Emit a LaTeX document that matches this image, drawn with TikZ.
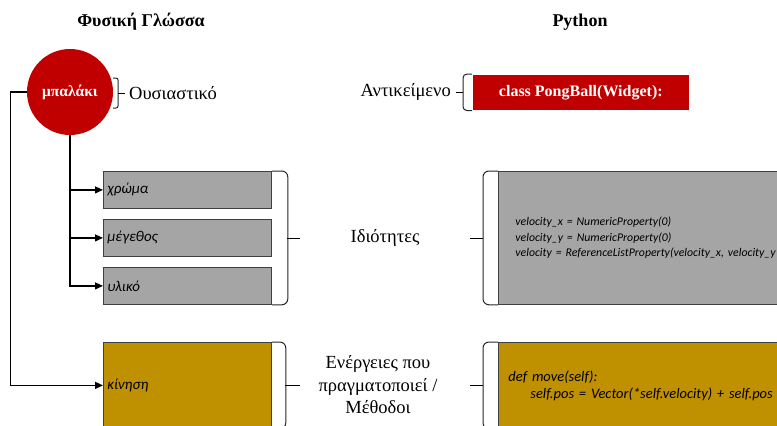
\documentclass[tikz,border=0pt]{standalone}
\usepackage{fontspec}
\setmainfont{Liberation Serif}
\newfontfamily\calfont{Carlito}
\usetikzlibrary{arrows.meta}
\definecolor{dred}{HTML}{C00000}
\definecolor{gbox}{HTML}{A5A5A5}
\definecolor{gold}{HTML}{BF9000}
\definecolor{edge}{HTML}{404040}
\tikzset{
  conn/.style={line width=1.2pt, draw=black},
  arr/.style={conn, -{Triangle[length=8pt,width=7pt]}},
  brace/.style={line width=1pt, draw=black!85, rounded corners=6pt},
  tick/.style={line width=1pt, draw=black},
  head/.style={font=\fontsize{18}{21}\selectfont\bfseries},
  lbl/.style={font=\fontsize{18.5}{22.5}\selectfont, align=center},
  propbox/.style={draw=edge, line width=0.8pt, fill=gbox, minimum height=37pt,
    text width=160pt, inner xsep=4pt, align=left, anchor=north west,
    font=\calfont\itshape\fontsize{15}{17}\selectfont},
}
\begin{document}
\begin{tikzpicture}[x=1pt,y=-1pt]
\useasboundingbox (0,0) rectangle (777,426);
\clip (0,0) rectangle (777,426);
% headings
\node[head] (h1) at (141,22) {Φυσική Γλώσσα};
\node[head] (h2) at (580,22) {Python};
% ball
\node[circle, fill=dred, minimum size=86pt, inner sep=0pt, text=white,
  font=\fontsize{15.5}{17}\selectfont\bfseries] (ball) at (70,92) {μπαλάκι};
% bracket of ball
\draw[brace, rounded corners=2pt] (113,78) -- (118,78) -- (118,108) -- (113,108);
\coordinate (bt) at (118,93);
\draw[tick] (bt) -- ++(7,0);
\node[lbl, anchor=west, inner sep=0pt] (noun) at (129,93) {Ουσιαστικό};
% property boxes
\node[propbox] (c) at (103,171) {χρώμα};
\node[propbox] (m) at (103,219) {μέγεθος};
\node[propbox] (u) at (103,267) {υλικό};
% action box
\node[propbox, fill=gold, minimum height=86pt] (k) at (103,342) {κίνηση};
% connectors
\draw[arr] (ball.south) |- (c.west);
\draw[arr] (ball.south) |- (m.west);
\draw[arr] (ball.south) |- (u.west);
\draw[arr] (ball.west) -- ++(-16,0) |- (k.west);
% brace right of properties
\draw[brace] (c.north east) -- ++(16,0) |- (u.south east);
\coordinate (pb) at (287,238);
\draw[tick] (pb) -- ++(13,0);
\node[lbl] (props) at (385,238) {Ιδιότητες};
% brace right of action
\draw[brace] (k.north east) -- ++(14,0) |- (k.south east);
\coordinate (ab) at (285,385);
\draw[tick] (ab) -- ++(15,0);
\node[lbl] (meth) at (378,385) {Ενέργειες που\\πραγματοποιεί /\\Μέθοδοι};
% python side
\node[lbl, anchor=east, inner sep=0pt] (obj) at (451,92) {Αντικείμενο};
\node[draw=white, line width=0.6pt, fill=dred, text=white, minimum width=217pt, minimum height=36pt,
  anchor=north west, font=\fontsize{16}{18}\selectfont\bfseries] (cls) at (472,74) {class PongBall(Widget):};
\draw[brace, rounded corners=4pt] (cls.north west) -- ++(-9,0) |- (cls.south west);
\draw[tick] (456,92) -- (463,92);
\node[draw=edge, line width=0.8pt, fill=gbox, anchor=north west, minimum height=133pt,
  text width=400pt, inner xsep=17pt, align=left,
  font=\calfont\itshape\fontsize{11.8}{15.5}\selectfont] (pv) at (498,171)
  {velocity\_x = NumericProperty(0)\\
   velocity\_y = NumericProperty(0)\\
   velocity = ReferenceListProperty(velocity\_x, velocity\_y};
\draw[brace] (pv.north west) -- ++(-15,0) |- (pv.south west);
\draw[tick] (470,238) -- (483,238);
\node[draw=edge, line width=0.8pt, fill=gold, anchor=north west, minimum height=86pt,
  text width=400pt, inner xsep=10pt, align=left,
  font=\calfont\itshape\fontsize{14.5}{17}\selectfont] (pm) at (498,342)
  {def move(self):\\
   \hspace*{22pt}self.pos = Vector(*self.velocity) + self.pos};
\draw[brace] (pm.north west) -- ++(-15,0) |- (pm.south west);
\draw[tick] (470,385) -- (483,385);
\end{tikzpicture}
\end{document}
